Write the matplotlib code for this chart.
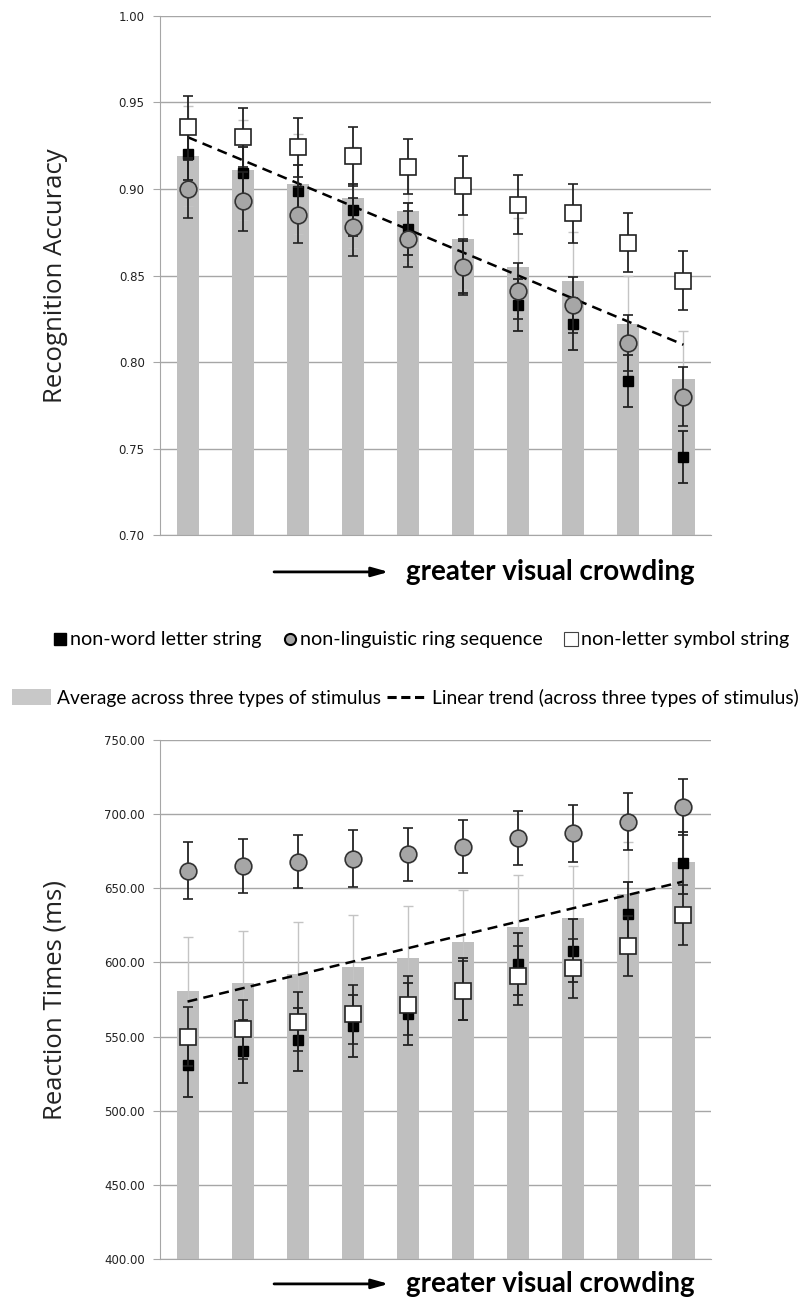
import matplotlib.pyplot as plt
import numpy as np
from matplotlib.lines import Line2D
from matplotlib.patches import Patch

# 10 steps of crowding, left = least crowded
levels = np.arange(10)

# ---- recognition accuracy (top panel)
acc_letter = [0.920, 0.909, 0.899, 0.888, 0.877, 0.855, 0.833, 0.822, 0.789, 0.745]
acc_ring = [0.900, 0.893, 0.885, 0.878, 0.871, 0.855, 0.841, 0.833, 0.811, 0.780]
acc_symbol = [0.936, 0.930, 0.924, 0.919, 0.913, 0.902, 0.891, 0.886, 0.869, 0.847]
acc_avg = [0.919, 0.911, 0.903, 0.895, 0.887, 0.871, 0.855, 0.847, 0.822, 0.790]
acc_letter_err = [0.015, 0.015, 0.015, 0.015, 0.015, 0.015, 0.015, 0.015, 0.015, 0.015]
acc_ring_err = [0.017, 0.017, 0.016, 0.017, 0.016, 0.016, 0.016, 0.016, 0.016, 0.017]
acc_symbol_err = [0.018, 0.017, 0.017, 0.017, 0.016, 0.017, 0.017, 0.017, 0.017, 0.017]
acc_avg_err = [0.029, 0.029, 0.029, 0.029, 0.029, 0.029, 0.028, 0.028, 0.028, 0.028]

# ---- reaction times in ms (bottom panel)
rt_letter = [531, 540, 548, 557, 565, 582, 599, 608, 633, 667]
rt_ring = [662, 665, 668, 670, 673, 678, 684, 687, 695, 705]
rt_symbol = [550, 555, 560, 565, 571, 581, 591, 596, 611, 632]
rt_avg = [581, 586, 592, 597, 603, 614, 624, 630, 646, 668]
rt_letter_err = [22, 21, 21, 21, 21, 21, 21, 21, 21, 21]
rt_ring_err = [19, 18, 18, 19, 18, 18, 18, 19, 19, 19]
rt_symbol_err = [20, 20, 20, 20, 20, 20, 20, 20, 20, 20]
rt_avg_err = [36, 35, 35, 35, 35, 35, 35, 35, 35, 35]

bar_col = '#bfbfbf'
grid_col = '#a6a6a6'
tick_font = 'DejaVu Sans'
text_font = ['Lato', 'DejaVu Sans']


def panel(ax, avg, avg_err, letter, letter_err, ring, ring_err, symbol, symbol_err):
    ax.bar(levels, avg, width=0.4, color=bar_col, zorder=2)
    ax.errorbar(levels, avg, yerr=avg_err, fmt='none', ecolor='#c4c4c4',
                elinewidth=1.0, capsize=3.6, capthick=1.0, zorder=2.5)

    # linear trend of the average
    slope, icpt = np.polyfit(levels, avg, 1)
    ax.plot(levels, slope * levels + icpt, color='black', ls=(0, (4, 2.5)),
            lw=1.8, zorder=3)

    ax.errorbar(levels, letter, yerr=letter_err, fmt='s', ms=7.5, mfc='black',
                mec='black', ecolor='#222222', elinewidth=1.3, capsize=3.6,
                capthick=1.3, zorder=4)
    ax.errorbar(levels, ring, yerr=ring_err, fmt='o', ms=12, mfc='#a6a6a6',
                mec='#333333', mew=1.2, ecolor='#222222', elinewidth=1.3,
                capsize=3.6, capthick=1.3, zorder=5)
    ax.errorbar(levels, symbol, yerr=symbol_err, fmt='s', ms=11, mfc='white',
                mec='#222222', mew=1.2, ecolor='#222222', elinewidth=1.3,
                capsize=3.6, capthick=1.3, zorder=6)

    ax.set_xlim(-0.5, 9.5)
    ax.set_xticks([])
    ax.yaxis.grid(True, color=grid_col, lw=1.0)
    ax.set_axisbelow(True)
    for s in ['top', 'right']:
        ax.spines[s].set_visible(False)
    ax.spines['left'].set_color(grid_col)
    ax.spines['bottom'].set_color(grid_col)
    ax.tick_params(axis='y', length=5, color=grid_col, labelsize=8.5,
                   labelcolor='#222222', pad=6)


def crowding_arrow(ax, y):
    ax.annotate('', xy=(0.415, y), xytext=(0.207, y), xycoords='axes fraction',
                arrowprops=dict(arrowstyle='-|>,head_length=1.0,head_width=0.28',
                                color='black', lw=2.0, shrinkA=0, shrinkB=0))
    ax.text(0.446, y, 'greater visual crowding', transform=ax.transAxes,
            ha='left', va='center', fontsize=20, fontweight='bold',
            family=text_font)


fig = plt.figure(figsize=(8.08, 12.99), dpi=100)

ax1 = fig.add_axes([0.198, 0.5881, 0.682, 0.3996])
panel(ax1, acc_avg, acc_avg_err, acc_letter, acc_letter_err, acc_ring,
      acc_ring_err, acc_symbol, acc_symbol_err)
ax1.set_ylim(0.70, 1.00)
ax1.set_yticks(np.arange(0.70, 1.001, 0.05))
ax1.set_yticklabels(['%.2f' % t for t in np.arange(0.70, 1.001, 0.05)],
                    family=tick_font)
ax1.set_ylabel('Recognition Accuracy', fontsize=18.5, family='Open Sans',
               color='#222222')
ax1.yaxis.set_label_coords(-0.167, 0.5)
crowding_arrow(ax1, -0.071)

ax2 = fig.add_axes([0.198, 0.0308, 0.682, 0.3995])
panel(ax2, rt_avg, rt_avg_err, rt_letter, rt_letter_err, rt_ring,
      rt_ring_err, rt_symbol, rt_symbol_err)
ax2.set_ylim(400, 750)
ax2.set_yticks(np.arange(400, 751, 50))
ax2.set_yticklabels(['%.2f' % t for t in np.arange(400, 751, 50)],
                    family=tick_font)
ax2.set_ylabel('Reaction Times (ms)', fontsize=18.5, family='Open Sans',
               color='#222222')
ax2.yaxis.set_label_coords(-0.167, 0.5)
crowding_arrow(ax2, -0.048)

# legends between the panels
h1 = [Line2D([], [], ls='none', marker='s', ms=8, mfc='black', mec='black'),
      Line2D([], [], ls='none', marker='o', ms=8, mfc='#a6a6a6', mec='black', mew=1.5),
      Line2D([], [], ls='none', marker='s', ms=10, mfc='white', mec='#444444', mew=0.8)]
fig.legend(h1, ['non-word letter string', 'non-linguistic ring sequence',
                'non-letter symbol string'],
           loc='center', bbox_to_anchor=(0.521, 1 - 640 / 1299), ncol=3,
           frameon=False, handlelength=0.7, handletextpad=0.15,
           columnspacing=1.1, prop={'family': text_font, 'size': 14.2})

h2 = [Patch(facecolor='#c8c8c8', edgecolor='none'),
      Line2D([], [], color='black', ls=(0, (3, 1.5)), lw=2.2)]
fig.legend(h2, ['Average across three types of stimulus',
                'Linear trend (across three types of stimulus)'],
           loc='center', bbox_to_anchor=(0.502, 1 - 698 / 1299), ncol=2,
           frameon=False, handlelength=2.0, handleheight=0.9, handletextpad=0.35,
           columnspacing=0.3, prop={'family': text_font, 'size': 13.8})

fig.savefig('out.png', dpi=100)
